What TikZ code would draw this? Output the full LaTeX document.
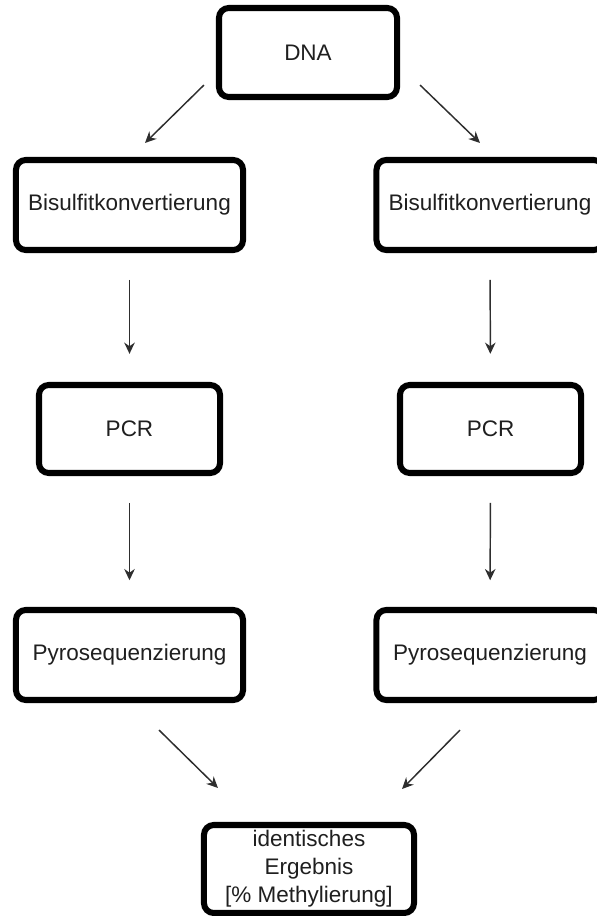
\documentclass[tikz,border=0pt]{standalone}
\usepackage{fontspec}
\setmainfont{Liberation Sans}
\usetikzlibrary{arrows.meta}
\definecolor{ink}{HTML}{1F1F1F}
\definecolor{arrowgray}{HTML}{2E2E2E}

\begin{document}
\begin{tikzpicture}[
  x=0.025cm,y=-0.025cm,
  font=\fontsize{16}{20}\selectfont,
  stepbox/.style={draw=black,line width=4.3pt,rounded corners=7pt,fill=white,
                  text=ink,align=center,inner sep=0pt},
  widebox/.style={stepbox,minimum width=5.675cm,minimum height=2.25cm},
  arrow/.style={-{Stealth[length=8pt,width=7.5pt]},line width=1.05pt,draw=arrowgray}
]
\useasboundingbox (0,0) rectangle (597,916);

% top
\node[stepbox,minimum width=4.45cm,minimum height=2.225cm] (dna) at (308,52.5) {DNA};

% left column
\node[widebox] (bisL) at (129.5,205) {Bisulfitkonvertierung};
\node[stepbox,minimum width=4.525cm,minimum height=2.2cm] (pcrL) at (129.5,429) {PCR};
\node[widebox] (pyroL) at (129.5,655) {Pyrosequenzierung};

% right column
\node[widebox] (bisR) at (490,205) {Bisulfitkonvertierung};
\node[stepbox,minimum width=4.525cm,minimum height=2.2cm] (pcrR) at (490.5,429) {PCR};
\node[widebox] (pyroR) at (490,655) {Pyrosequenzierung};

% result
\node[stepbox,minimum width=5.25cm,minimum height=2.2cm] (result) at (309,869)
  {identisches\\Ergebnis\\{}[\% Methylierung]};

% arrows
\draw[arrow] ([shift={(-12,-15)}]dna.south west) -- ([shift={(15.5,-14)}]bisL.north);
\draw[arrow] ([shift={(20,-15)}]dna.south east) -- ([shift={(-10,-14)}]bisR.north);
\draw[arrow,shorten <=19pt,shorten >=20pt] (bisL) -- (pcrL);
\draw[arrow,shorten <=19pt,shorten >=20pt] (bisR) -- (pcrR);
\draw[arrow,shorten <=19pt,shorten >=19pt] (pcrL) -- (pyroL);
\draw[arrow,shorten <=19pt,shorten >=19pt] (pcrR) -- (pyroR);
\draw[arrow] ([shift={(29.5,27)}]pyroL.south) -- ([shift={(17,-34)}]result.north west);
\draw[arrow] ([shift={(-30,27)}]pyroR.south) -- ([shift={(-15,-33)}]result.north east);
\end{tikzpicture}
\end{document}
